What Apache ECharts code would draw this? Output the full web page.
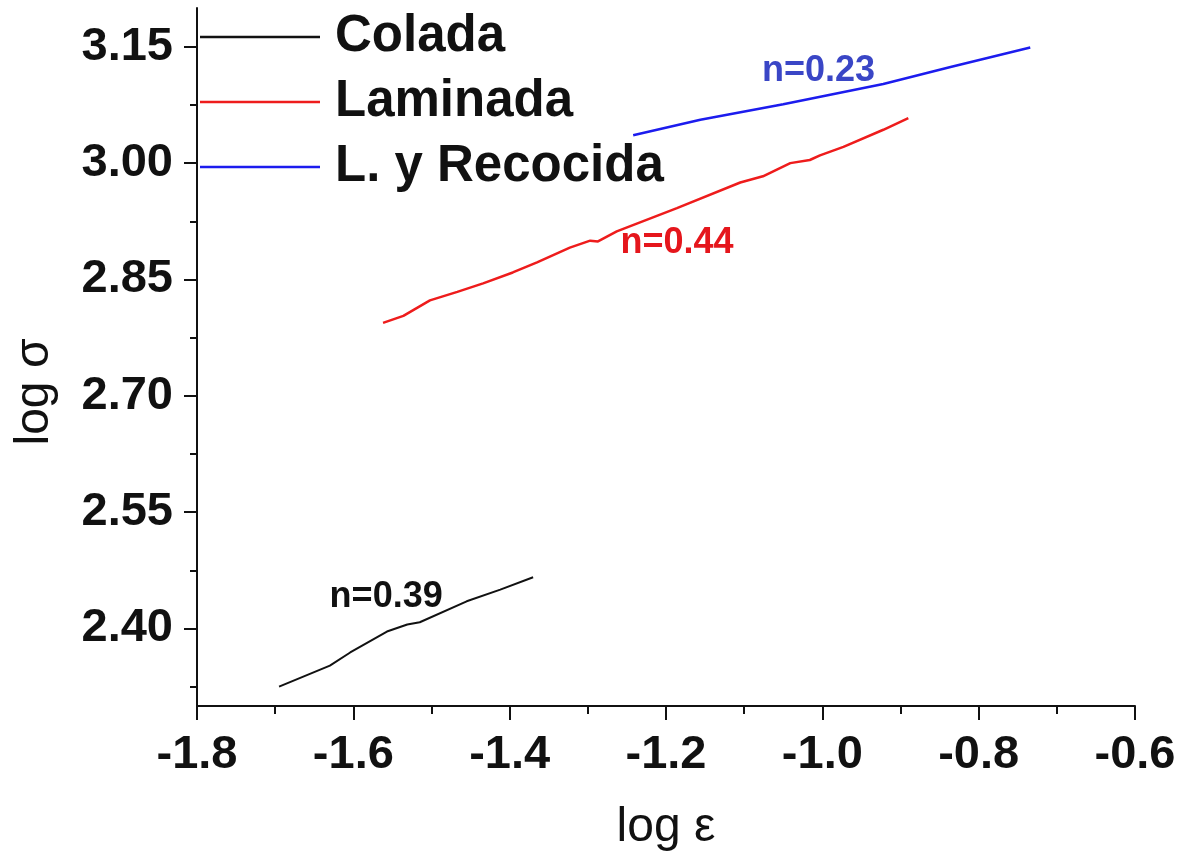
<!DOCTYPE html>
<html>
<head>
<meta charset="utf-8">
<script src="https://cdn.jsdelivr.net/npm/echarts@6/dist/echarts.min.js"></script>
<style>
html,body{margin:0;padding:0;background:#fff;}
#chart{width:1184px;height:861px;}
</style>
</head>
<body>
<div id="chart"></div>
<script>
// ---- data ----
const seriesNames = ['Colada', 'Laminada', 'L. y Recocida'];
const coladaX = [-1.695, -1.630, -1.604, -1.557, -1.531, -1.515, -1.455, -1.412, -1.370];
const coladaY = [2.325, 2.352, 2.369, 2.396, 2.405, 2.408, 2.435, 2.450, 2.466];
const laminadaX = [-1.562, -1.536, -1.502, -1.467, -1.434, -1.396, -1.365, -1.323, -1.297, -1.287, -1.263, -1.186, -1.105, -1.076, -1.041, -1.016, -1.003, -0.973, -0.922, -0.890];
const laminadaY = [2.794, 2.803, 2.823, 2.834, 2.845, 2.859, 2.872, 2.891, 2.900, 2.899, 2.912, 2.942, 2.975, 2.983, 3.000, 3.004, 3.010, 3.021, 3.043, 3.058];
const recocidaX = [-1.242, -1.156, -1.050, -0.922, -0.836, -0.734];
const recocidaY = [3.036, 3.056, 3.076, 3.102, 3.124, 3.149];
const yMajorTicks = [2.40, 2.55, 2.70, 2.85, 3.00, 3.15];
const yMinorTicks = [2.325, 2.475, 2.625, 2.775, 2.925, 3.075];
const annotTexts = ['n=0.39', 'n=0.44', 'n=0.23'];
const annotX = [-1.558, -1.186, -1.005];
const annotY = [2.440, 2.897, 3.119];

const colors = ['#111111', '#ee1c1c', '#1c1cee'];
const annotColors = ['#111111', '#e5161c', '#3a46c6'];

function hasFont(name) {
  const c = document.createElement('canvas').getContext('2d');
  c.font = 'bold 50px monospace';
  const w1 = c.measureText('3.15 Abg').width;
  c.font = 'bold 50px "' + name + '", monospace';
  return Math.abs(c.measureText('3.15 Abg').width - w1) > 0.5;
}
const narrow = hasFont('Liberation Sans Narrow');
const tickFont = narrow ? {family: '"Liberation Sans Narrow", "Liberation Sans", Arial, sans-serif', size: 57}
                        : {family: '"Liberation Sans", Arial, sans-serif', size: 47};

function zip(xs, ys) { return xs.map((x, i) => [x, ys[i]]); }

const chart = echarts.init(document.getElementById('chart'), null, {renderer: 'canvas'});

const axisLineStyle = {color: '#111', width: 2};
const tickLabel = {
  color: '#111', fontFamily: tickFont.family, fontWeight: 'bold', fontSize: tickFont.size
};

chart.setOption({
  animation: false,
  backgroundColor: '#fff',
  grid: {left: 197, right: 49, top: 8, bottom: 155, containLabel: false},
  legend: {
    orient: 'vertical', left: 200, top: 9, padding: 0,
    icon: 'rect', itemWidth: 120, itemHeight: 2.5, itemGap: 9,
    data: seriesNames,
    textStyle: {
      fontFamily: '"Liberation Sans", Arial, sans-serif', fontWeight: 'bold',
      fontSize: 51, color: '#111', lineHeight: 56, padding: [0, 0, 0, 10]
    }
  },
  xAxis: {
    type: 'value', min: -1.8, max: -0.6, interval: 0.2,
    name: 'log ε', nameLocation: 'middle', nameGap: 98,
    nameTextStyle: {fontFamily: '"Liberation Sans", Arial, sans-serif', fontSize: 48, color: '#111'},
    axisLine: {show: true, onZero: false, lineStyle: axisLineStyle},
    axisTick: {show: true, inside: false, length: 14, lineStyle: {color: '#111', width: 2}},
    minorTick: {show: true, splitNumber: 2, length: 8, lineStyle: {color: '#111', width: 2}},
    splitLine: {show: false},
    axisLabel: Object.assign({margin: 26, formatter: v => v.toFixed(1)}, tickLabel)
  },
  yAxis: [{
    type: 'value', min: 2.30, max: 3.20,
    name: 'log σ', nameLocation: 'middle', nameGap: 138, nameRotate: 90,
    nameTextStyle: {fontFamily: '"Liberation Sans", Arial, sans-serif', fontSize: 48, color: '#111', padding: [0, 70, 0, 0]},
    axisLine: {show: true, onZero: false, lineStyle: axisLineStyle},
    axisTick: {show: true, inside: false, length: 13, customValues: yMajorTicks, lineStyle: {color: '#111', width: 2}},
    splitLine: {show: false},
    axisLabel: Object.assign({margin: 24, customValues: yMajorTicks, formatter: v => v.toFixed(2)}, tickLabel)
  }, {
    type: 'value', min: 2.30, max: 3.20, position: 'left',
    axisLine: {show: false},
    axisTick: {show: true, inside: false, length: 7, customValues: yMinorTicks, lineStyle: {color: '#111', width: 2}},
    splitLine: {show: false},
    axisLabel: {show: false}
  }],
  series: [
    {name: seriesNames[0], type: 'line', data: zip(coladaX, coladaY), showSymbol: false, symbol: 'none',
     lineStyle: {color: colors[0], width: 2}, itemStyle: {color: colors[0]}},
    {name: seriesNames[1], type: 'line', data: zip(laminadaX, laminadaY), showSymbol: false, symbol: 'none',
     lineStyle: {color: colors[1], width: 2.5}, itemStyle: {color: colors[1]}},
    {name: seriesNames[2], type: 'line', data: zip(recocidaX, recocidaY), showSymbol: false, symbol: 'none',
     lineStyle: {color: colors[2], width: 2.5}, itemStyle: {color: colors[2]}}
  ]
});

const graphics = annotTexts.map((t, i) => {
  const p = chart.convertToPixel({gridIndex: 0}, [annotX[i], annotY[i]]);
  return {
    type: 'text', x: p[0], y: p[1],
    style: {
      text: t, fill: annotColors[i], align: 'center', verticalAlign: 'middle',
      font: 'bold 36px "Liberation Sans", Arial, sans-serif'
    }
  };
});
chart.setOption({graphic: graphics});
</script>
</body>
</html>
